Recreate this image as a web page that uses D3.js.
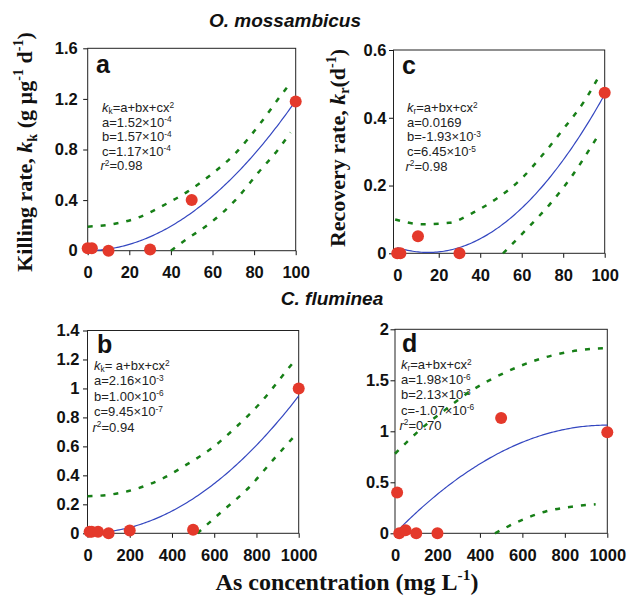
<!DOCTYPE html>
<html>
<head>
<meta charset="utf-8">
<script src="https://cdn.jsdelivr.net/npm/d3@7"></script>
<style>
  body { margin: 0; background: #fff; }
  svg { display: block; }
</style>
</head>
<body>
<svg id="fig" width="630" height="595"></svg>
<script>
// ---------- O. mossambicus, killing rate (panel a) ----------
const killO_conc = [0, 2, 10, 30, 50, 100];
const killO_rate = [0.02, 0.02, 0.0, 0.01, 0.40, 1.18];
// coefficient label parts: [name, mantissa, exponent]
const killO_terms = [["a", "1.52", -4], ["b", "1.57", -4], ["c", "1.17", -4]];
const killO_r2 = "0.98";
const killO_upperX = [0, 12, 24, 36, 48, 60, 71, 83, 93, 98];
const killO_upperY = [0.19, 0.21, 0.26, 0.355, 0.467, 0.61, 0.77, 1.007, 1.23, 1.336];
const killO_lowerX = [40, 47, 59, 71, 82, 92.5, 97.5];
const killO_lowerY = [0.0, 0.085, 0.22, 0.40, 0.617, 0.82, 0.935];
const killO_yTicks = [0, 0.4, 0.8, 1.2, 1.6];

// ---------- O. mossambicus, recovery rate (panel c) ----------
const recO_conc = [0, 1.5, 10, 30, 100];
const recO_rate = [0.0, 0.0, 0.05, 0.0, 0.474];
const recO_terms = [["a", "0.0169", null], ["b", "-1.93", -3], ["c", "6.45", -5]];
const recO_r2 = "0.98";
const recO_upperX = [-1, 12, 25, 36, 48, 60, 70, 81, 90.5, 98];
const recO_upperY = [0.10, 0.086, 0.09, 0.118, 0.162, 0.221, 0.29, 0.374, 0.452, 0.531];
const recO_lowerX = [51, 62, 74, 84, 93, 97];
const recO_lowerY = [0.0, 0.069, 0.148, 0.226, 0.31, 0.349];
const recO_yTicks = [0, 0.2, 0.4, 0.6];

// ---------- C. fluminea, killing rate (panel b) ----------
const killC_conc = [10, 20, 50, 100, 200, 500, 1000];
const killC_rate = [0.01, 0.01, 0.01, 0.0, 0.02, 0.025, 1.0];
const killC_terms = [["a", "2.16", -3], ["b", "1.00", -6], ["c", "9.45", -7]];
const killC_r2 = "0.94";
const killC_upperX = [0, 121, 240, 358, 461, 588, 706, 817, 927, 985];
const killC_upperY = [0.255, 0.27, 0.311, 0.38, 0.467, 0.587, 0.737, 0.898, 1.094, 1.2];
const killC_lowerX = [520, 635, 761, 872, 985];
const killC_lowerY = [0.0, 0.149, 0.311, 0.495, 0.68];
const killC_yTicks = [0, 0.2, 0.4, 0.6, 0.8, 1, 1.2, 1.4];

// ---------- C. fluminea, recovery rate (panel d) ----------
const recC_conc = [10, 20, 50, 100, 200, 500, 1000];
const recC_rate = [0.40, 0.0, 0.03, 0.0, 0.0, 1.13, 0.99];
const recC_terms = [["a", "1.98", -6], ["b", "2.13", -3], ["c", "-1.07", -6]];
const recC_r2 = "0.70";
const recC_upperX = [0, 126, 236, 353, 463, 581, 699, 824, 942, 990];
const recC_upperY = [0.78, 1.03, 1.21, 1.39, 1.52, 1.633, 1.72, 1.78, 1.81, 1.815];
const recC_lowerX = [471, 597, 707, 833, 945];
const recC_lowerY = [0.0, 0.13, 0.212, 0.261, 0.285];
const recC_yTicks = [0, 0.5, 1, 1.5, 2];

const xTicksO = [0, 20, 40, 60, 80, 100];
const xTicksC = [0, 200, 400, 600, 800, 1000];

// ---------- text ----------
const titleO = "O. mossambicus";
const titleC = "C. fluminea";
const xTitle = [["As concentration (mg L", ""], ["-1", "sup"], [")", ""]];
const yTitleKill = [["Killing rate, ", ""], ["k", "i"], ["k", "sub"], [" (g µg", ""], ["-1", "sup"], [" d", ""], ["-1", "sup"], [")", ""]];
const yTitleRec = [["Recovery rate, ", ""], ["k", "i"], ["r", "sub"], ["(d", ""], ["-1", "sup"], [")", ""]];

// ---------- styling ----------
const SANS = "'Liberation Sans', Arial, Helvetica, sans-serif";
const SERIF = "'Liberation Serif', 'Times New Roman', Times, serif";
const RED = "#e4392b";
const BLUE = "#3447c0";
const GREEN = "#177f17";

const svg = d3.select("#fig");

// writes a sequence of [text, kind] runs into a <text>, handling sub/superscripts
function rich(textSel, runs, base, supRise, subDrop) {
  const rise = supRise === undefined ? 0.4 : supRise;
  const drop = subDrop === undefined ? 0.22 : subDrop;
  let shift = 0;
  runs.forEach(([s, kind]) => {
    let target = 0, size = base;
    if (kind === "sup") { target = -base * rise; size = base * 0.64; }
    else if (kind === "sub") { target = base * drop; size = base * 0.64; }
    const ts = textSel.append("tspan")
      .attr("dy", (target - shift).toFixed(2))
      .attr("font-size", size)
      .text(s);
    if (kind === "i") ts.attr("font-style", "italic");
    shift = target;
  });
}

function coefValue(term) {
  const m = +term[1];
  return term[2] === null ? m : m * Math.pow(10, term[2]);
}

const panels = [
  { letter: "a", sym: "k", symSub: "k", eqSpace: false,
    left: 87.7, right: 295.7, top: 48.3, bottom: 250.7,
    xDom: [0, 100], yDom: [0, 1.6], xTicks: xTicksO, yTicks: killO_yTicks, yPad: 5.5,
    conc: killO_conc, rate: killO_rate, terms: killO_terms, r2: killO_r2, fitFrom: 1,
    upX: killO_upperX, upY: killO_upperY, loX: killO_lowerX, loY: killO_lowerY,
    letterX: 96, letterY: 73, annoX: 102, annoY: 112, annoStep: 14.6 },
  { letter: "c", sym: "k", symSub: "r", eqSpace: false,
    left: 393.5, right: 604.7, top: 50, bottom: 253.3,
    xDom: [-1.8, 100], yDom: [0, 0.6], xTicks: xTicksO, yTicks: recO_yTicks, yPad: 2.5,
    conc: recO_conc, rate: recO_rate, terms: recO_terms, r2: recO_r2, fitFrom: 0,
    upX: recO_upperX, upY: recO_upperY, loX: recO_lowerX, loY: recO_lowerY,
    letterX: 402, letterY: 73.5, annoX: 407, annoY: 112, annoStep: 14.7 },
  { letter: "b", sym: "k", symSub: "k", eqSpace: true,
    left: 87.5, right: 298.7, top: 330.5, bottom: 533.3,
    xDom: [0, 1000], yDom: [0, 1.4], xTicks: xTicksC, yTicks: killC_yTicks, yPad: 3.5,
    conc: killC_conc, rate: killC_rate, terms: killC_terms, r2: killC_r2, fitFrom: 10,
    upX: killC_upperX, upY: killC_upperY, loX: killC_lowerX, loY: killC_lowerY,
    letterX: 97, letterY: 353, annoX: 94, annoY: 370, annoStep: 15.4 },
  { letter: "d", sym: "k", symSub: "r", eqSpace: false,
    left: 395, right: 607.3, top: 329.3, bottom: 533.3,
    xDom: [0, 1000], yDom: [0, 2], xTicks: xTicksC, yTicks: recC_yTicks, yPad: 1.5,
    conc: recC_conc, rate: recC_rate, terms: recC_terms, r2: recC_r2, fitFrom: 15,
    upX: recC_upperX, upY: recC_upperY, loX: recC_lowerX, loY: recC_lowerY,
    letterX: 402, letterY: 352, annoX: 401, annoY: 369, annoStep: 15.2 }
];

panels.forEach(p => {
  const x = d3.scaleLinear().domain(p.xDom).range([p.left, p.right]);
  const y = d3.scaleLinear().domain(p.yDom).range([p.bottom, p.top]);
  const g = svg.append("g");

  // axes with outward ticks
  const fmt = d => String(d);
  const xAxis = g.append("g")
    .attr("transform", `translate(0,${p.bottom})`)
    .call(d3.axisBottom(x).tickValues(p.xTicks).tickFormat(fmt).tickSize(4.5).tickSizeOuter(0).tickPadding(11.5));
  const yAxis = g.append("g")
    .attr("transform", `translate(${p.left},0)`)
    .call(d3.axisLeft(y).tickValues(p.yTicks).tickFormat(fmt).tickSize(4.5).tickSizeOuter(0).tickPadding(p.yPad));
  [xAxis, yAxis].forEach(a => {
    a.select(".domain").remove();
    a.selectAll("line").attr("stroke", "#111").attr("stroke-width", 1);
    a.selectAll("text")
      .attr("font-family", SANS).attr("font-weight", "bold")
      .attr("font-size", 16.5).attr("fill", "#111");
  });

  // frame
  g.append("rect")
    .attr("x", p.left).attr("y", p.top)
    .attr("width", p.right - p.left).attr("height", p.bottom - p.top)
    .attr("fill", "none").attr("stroke", "#222").attr("stroke-width", 1);

  // panel letter
  g.append("text").attr("x", p.letterX).attr("y", p.letterY)
    .attr("font-family", SANS).attr("font-weight", "bold").attr("font-size", 25)
    .attr("fill", "#111").text(p.letter);

  // regression annotation
  const anno = g.append("g").attr("font-family", SANS).attr("fill", "#222");
  const lines = [];
  lines.push([[p.sym, "i"], [p.symSub, "sub"], [(p.eqSpace ? "= " : "=") + "a+bx+cx", ""], ["2", "sup"]]);
  p.terms.forEach(t => {
    if (t[2] === null) lines.push([[`${t[0]}=${t[1]}`, ""]]);
    else lines.push([[`${t[0]}=${t[1]}×10`, ""], [String(t[2]), "sup"]]);
  });
  lines.push([["r", "i"], ["2", "sup"], [`=${p.r2}`, ""]]);
  lines.forEach((runs, i) => {
    const t = anno.append("text")
      .attr("x", i === lines.length - 1 ? p.annoX - 1.5 : p.annoX)
      .attr("y", p.annoY + i * p.annoStep)
      .attr("font-size", 13);
    rich(t, runs, 13, 0.34, 0.14);
  });

  // fitted quadratic from the stated coefficients
  const [ca, cb, cc] = p.terms.map(coefValue);
  const fitX = d3.range(p.fitFrom, p.xDom[1] + 1e-9, (p.xDom[1] - p.fitFrom) / 120);
  const line = d3.line().x(d => x(d[0])).y(d => y(d[1]));
  g.append("path")
    .datum(fitX.map(v => [v, ca + cb * v + cc * v * v]))
    .attr("d", line)
    .attr("fill", "none").attr("stroke", BLUE).attr("stroke-width", 1.2);

  // prediction bands
  const bandLine = d3.line().curve(d3.curveMonotoneX).x(d => x(d[0])).y(d => y(d[1]));
  [[p.upX, p.upY], [p.loX, p.loY]].forEach(([bx, by]) => {
    g.append("path")
      .datum(bx.map((v, i) => [v, by[i]]))
      .attr("d", bandLine)
      .attr("fill", "none").attr("stroke", GREEN)
      .attr("stroke-width", 2.5).attr("stroke-dasharray", "5,8");
  });

  // observations
  g.selectAll("circle.obs")
    .data(p.conc.map((c, i) => [c, p.rate[i]]))
    .join("circle").attr("class", "obs")
    .attr("cx", d => x(d[0])).attr("cy", d => y(d[1]))
    .attr("r", 6).attr("fill", RED);
});

// species headings
svg.append("text").attr("x", 285).attr("y", 27)
  .attr("text-anchor", "middle").attr("font-family", SANS)
  .attr("font-weight", "bold").attr("font-style", "italic").attr("font-size", 19)
  .attr("fill", "#111").text(titleO);
svg.append("text").attr("x", 332).attr("y", 305)
  .attr("text-anchor", "middle").attr("font-family", SANS)
  .attr("font-weight", "bold").attr("font-style", "italic").attr("font-size", 19)
  .attr("fill", "#111").text(titleC);

// axis titles
const xt = svg.append("text").attr("x", 347).attr("y", 590)
  .attr("text-anchor", "middle").attr("font-family", SERIF)
  .attr("font-weight", "bold").attr("fill", "#111");
rich(xt, xTitle, 24);

const yk = svg.append("text")
  .attr("transform", "translate(32,152) rotate(-90)")
  .attr("text-anchor", "middle").attr("font-family", SERIF)
  .attr("font-weight", "bold").attr("fill", "#111");
rich(yk, yTitleKill, 22);

const yr = svg.append("text")
  .attr("transform", "translate(344.5,148) rotate(-90)")
  .attr("text-anchor", "middle").attr("font-family", SERIF)
  .attr("font-weight", "bold").attr("fill", "#111");
rich(yr, yTitleRec, 22);
</script>
</body>
</html>
